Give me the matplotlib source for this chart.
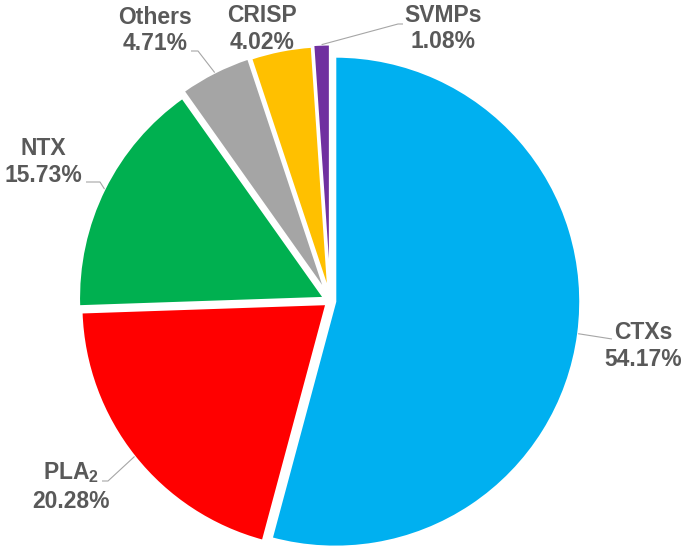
import math
import matplotlib
matplotlib.use('Agg')
import matplotlib.pyplot as plt

# ---- data ----
categories = ['CTXs', 'PLA$_\\mathbf{2}$', 'NTX', 'Others', 'CRISP', 'SVMPs']
values = [54.17, 20.28, 15.73, 4.71, 4.02, 1.08]
pct_labels = ['54.17%', '20.28%', '15.73%', '4.71%', '4.02%', '1.08%']

# ---- style / layout ----
colors = ['#00B0F0', '#FF0000', '#00B050', '#A5A5A5', '#FFC000', '#7030A0']
explode_px = [5, 5, 7, 11, 10, 11.5]
W, H = 687, 553
# label centres (x) and baselines (two lines) in image pixel coords
label_x = [643, 71, 43, 155, 262, 443]
label_base = [(339, 366), (479, 508), (155, 182), (24, 50), (22, 49), (22, 48)]
# leader elbows (image coords): list of points after the arc point, or None
leaders = [
    [(612, 339)],
    [(108, 481), (102, 481)],
    [(100, 182), (86, 182)],
    [(198, 51), (191, 51)],
    None,
    [(398, 24), (403, 24)],
]

plt.rcParams['font.family'] = ['Liberation Sans', 'DejaVu Sans']
plt.rcParams['mathtext.fontset'] = 'custom'
plt.rcParams['mathtext.bf'] = 'Liberation Sans:bold'
plt.rcParams['mathtext.rm'] = 'Liberation Sans:bold'

fig = plt.figure(figsize=(W / 100, H / 100), dpi=100)
ax = fig.add_axes([0, 0, 1, 1])

cx, cy, R = 330.3, H - 301, 245
wedges, _ = ax.pie(values, colors=colors, explode=explode_px, startangle=90,
                   counterclock=False, center=(cx, cy), radius=R,
                   wedgeprops=dict(edgecolor='white', linewidth=1.5))
ax.set_xlim(0, W)
ax.set_ylim(0, H)
ax.set_aspect('equal')
ax.axis('off')

txt_kw = dict(fontsize=16.5, fontweight='bold', color='#595959', ha='center', va='baseline')
for i, w in enumerate(wedges):
    b1, b2 = label_base[i]
    ax.text(label_x[i], H - b1, categories[i], **txt_kw)
    ax.text(label_x[i], H - b2, pct_labels[i], **txt_kw)
    if leaders[i] is not None:
        ang = math.radians((w.theta1 + w.theta2) / 2)
        x0 = w.center[0] + w.r * math.cos(ang)
        y0 = w.center[1] + w.r * math.sin(ang)
        xs = [x0] + [p[0] for p in leaders[i]]
        ys = [y0] + [H - p[1] for p in leaders[i]]
        ax.plot(xs, ys, color='#A6A6A6', lw=0.8, solid_capstyle='butt')

fig.savefig('out.png', dpi=100)
